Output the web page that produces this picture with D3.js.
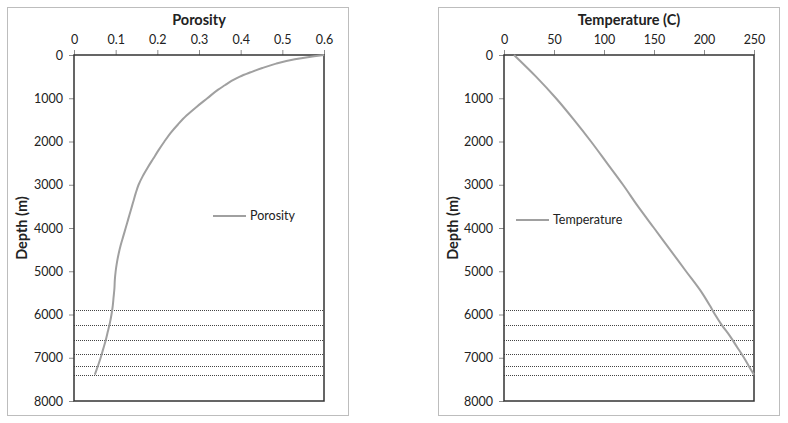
<!DOCTYPE html>
<html>
<head>
<meta charset="utf-8">
<script src="https://cdn.jsdelivr.net/npm/d3@7"></script>
<style>
    body { margin: 0; background: #fff; }
    svg { display: block; }
    text { font-family: Lato, "Open Sans", sans-serif; fill: #222; }
</style>
</head>
<body>
<script>
// porosity vs depth
const porDepth = [0, 100, 200, 300, 400, 500, 600, 700, 800, 1000, 1200, 1400, 1600, 1800, 2000,
    2200, 2400, 2600, 2800, 3000, 3200, 3400, 3600, 3800, 4000, 4200, 4400, 4600, 4800, 5000,
    5200, 5400, 5600, 5800, 6000, 6200, 6400, 6600, 6800, 7000, 7200, 7390];
const porosity = [0.600, 0.530, 0.485, 0.452, 0.424, 0.398, 0.378, 0.362, 0.346, 0.320, 0.294,
    0.270, 0.250, 0.232, 0.217, 0.203, 0.190, 0.177, 0.165, 0.155, 0.148, 0.142, 0.136, 0.130,
    0.124, 0.118, 0.112, 0.107, 0.103, 0.100, 0.098, 0.097, 0.095, 0.093, 0.090, 0.086, 0.081,
    0.076, 0.070, 0.064, 0.057, 0.050];

// temperature vs depth
const tempDepth = [0, 500, 1000, 1500, 2000, 2500, 3000, 3500, 4000, 4500, 5000, 5500, 5800,
    6000, 6250, 6500, 6750, 7000, 7200, 7390];
const temperature = [10, 32, 52, 70, 87, 103, 119, 134, 150, 166, 182, 198, 206, 211, 218, 226,
    233, 240, 245, 250];

// dotted layer boundaries
const layerDepths = [5890, 6250, 6600, 6910, 7180, 7390];

const depthTicks = [0, 1000, 2000, 3000, 4000, 5000, 6000, 7000, 8000];

const charts = [
    {
        title: "Porosity", legend: "Porosity",
        frameX: 7, plotX: 74,
        domain: [0, 0.6], ticks: [0, 0.1, 0.2, 0.3, 0.4, 0.5, 0.6],
        depth: porDepth, values: porosity,
        legendX: 213, legendY: 216
    },
    {
        title: "Temperature (C)", legend: "Temperature",
        frameX: 438, plotX: 504,
        domain: [0, 250], ticks: [0, 50, 100, 150, 200, 250],
        depth: tempDepth, values: temperature,
        legendX: 516, legendY: 220
    }
];

const W = 788, H = 423;
const frameW = 341, frameTop = 7, frameH = 408;
const plotW = 250, plotTop = 55, plotBottom = 401;

const svg = d3.select("body").append("svg")
    .attr("width", W)
    .attr("height", H);

const y = d3.scaleLinear().domain([0, 8000]).range([plotTop, plotBottom]);

charts.forEach(c => {
    const g = svg.append("g");

    g.append("rect")
        .attr("x", c.frameX + 0.5)
        .attr("y", frameTop + 0.5)
        .attr("width", frameW)
        .attr("height", frameH)
        .attr("fill", "#fff")
        .attr("stroke", "#bdbdbd");

    const x = d3.scaleLinear().domain(c.domain).range([c.plotX, c.plotX + plotW]);

    // axes
    const yAxis = g.append("g")
        .attr("transform", `translate(${c.plotX},0)`)
        .call(d3.axisLeft(y).tickValues(depthTicks).tickSize(5).tickPadding(6).tickFormat(d3.format("d")));
    const xAxis = g.append("g")
        .attr("transform", `translate(0,${plotTop})`)
        .call(d3.axisTop(x).tickValues(c.ticks).tickSize(5).tickPadding(6).tickFormat(d => d3.format("")(d)));

    [yAxis, xAxis].forEach(a => {
        a.select(".domain").remove();
        a.selectAll(".tick line").attr("stroke", "#8c8c8c");
        a.selectAll(".tick text")
            .attr("fill", "#333")
            .style("font-size", "12.5px")
            .style("font-family", "Lato, sans-serif");
    });

    // dotted layers
    g.selectAll(".layer")
        .data(layerDepths)
        .enter()
        .append("line")
        .attr("class", "layer")
        .attr("x1", c.plotX)
        .attr("x2", c.plotX + plotW)
        .attr("y1", d => Math.round(y(d)) + 0.5)
        .attr("y2", d => Math.round(y(d)) + 0.5)
        .attr("stroke", "#444")
        .attr("stroke-width", 1)
        .attr("stroke-dasharray", "1,1");

    // plot box
    g.append("rect")
        .attr("x", c.plotX)
        .attr("y", plotTop)
        .attr("width", plotW)
        .attr("height", plotBottom - plotTop)
        .attr("fill", "none")
        .attr("stroke", "#333")
        .attr("stroke-width", 1.5);

    const pts = c.depth.map((d, i) => [c.values[i], d]);
    const line = d3.line()
        .curve(d3.curveMonotoneY)
        .x(d => x(d[0]))
        .y(d => y(d[1]));

    g.append("path")
        .datum(pts)
        .attr("d", line)
        .attr("fill", "none")
        .attr("stroke", "#a0a0a0")
        .attr("stroke-width", 2);

    // titles
    g.append("text")
        .attr("x", c.plotX + plotW / 2)
        .attr("y", 25)
        .attr("text-anchor", "middle")
        .style("font-size", "14.5px")
        .style("font-weight", "bold")
        .text(c.title);

    g.append("text")
        .attr("transform", `translate(${c.frameX + 20},${(plotTop + plotBottom) / 2}) rotate(-90)`)
        .attr("text-anchor", "middle")
        .style("font-size", "14.5px")
        .style("font-weight", "bold")
        .text("Depth (m)");

    // legend
    g.append("line")
        .attr("x1", c.legendX)
        .attr("x2", c.legendX + 33)
        .attr("y1", c.legendY)
        .attr("y2", c.legendY)
        .attr("stroke", "#a0a0a0")
        .attr("stroke-width", 2);
    g.append("text")
        .attr("x", c.legendX + 37)
        .attr("y", c.legendY + 4)
        .style("font-size", "12.5px")
        .attr("fill", "#333")
        .text(c.legend);
});
</script>
</body>
</html>
